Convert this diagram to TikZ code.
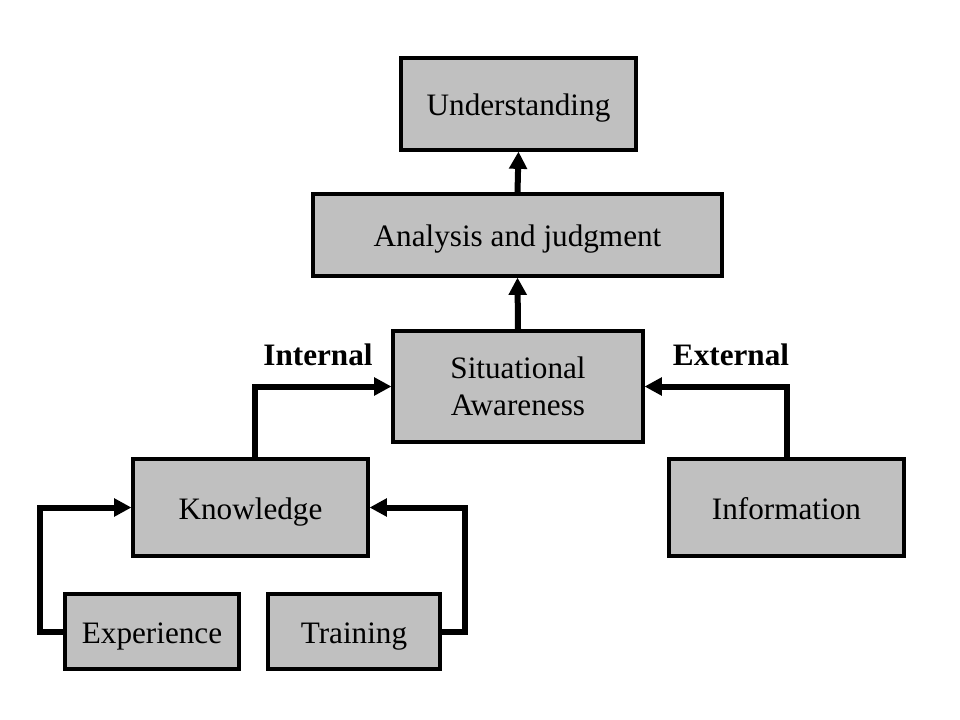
\documentclass[tikz,border=0pt]{standalone}
\usepackage{fontspec}
\setmainfont{Liberation Serif}
\usetikzlibrary{arrows.meta}
\definecolor{boxgray}{RGB}{192,192,192}
\begin{document}
\begin{tikzpicture}[x=0.75pt,y=-0.75pt,
  blk/.style={draw=black,line width=2.3pt,fill=boxgray,inner sep=0pt,align=center,font=\fontsize{23.4}{27.5}\selectfont},
  one/.style={blk,text height=18pt,text depth=0pt},
  conn/.style={line width=4.5pt,-{Triangle[length=13pt,width=13pt]}},
  lbl/.style={font=\fontsize{23.4}{27}\selectfont\bfseries}]
\useasboundingbox[fill=white] (0,0) rectangle (960,720);
\node[one,minimum width=235*0.75pt,minimum height=92*0.75pt] (U) at (518.5,104) {Understanding};
\node[one,minimum width=409*0.75pt,minimum height=82*0.75pt] (A) at (517.5,235) {Analysis and judgment};
\node[blk,minimum width=250*0.75pt,minimum height=111*0.75pt] (S) at (518,386.5) {Situational\\Awareness};
\node[one,minimum width=235*0.75pt,minimum height=97*0.75pt] (K) at (250.5,507.5) {Knowledge};
\node[one,minimum width=235*0.75pt,minimum height=97*0.75pt] (I) at (786.5,507.5) {Information};
\node[one,minimum width=174*0.75pt,minimum height=75*0.75pt] (E) at (152,631.5) {Experience};
\node[one,minimum width=172*0.75pt,minimum height=75*0.75pt] (T) at (354,631.5) {Training};
\node[lbl] (intl) at (318,355) {Internal};
\node[lbl] (extl) at (731,355) {External};
\draw[conn] (A.north) -- (U.south);
\draw[conn] (S.north) -- (A.south);
\draw[conn] ([xshift=4.5*0.75pt]K.north) |- (S.west);
\draw[conn] (I.north) |- (S.east);
\coordinate (el) at (40,631.5);
\coordinate (tr) at (465,631.5);
\draw[conn] (E.west) -- (el) |- (K.west);
\draw[conn] (T.east) -- (tr) |- (K.east);
\end{tikzpicture}
\end{document}
